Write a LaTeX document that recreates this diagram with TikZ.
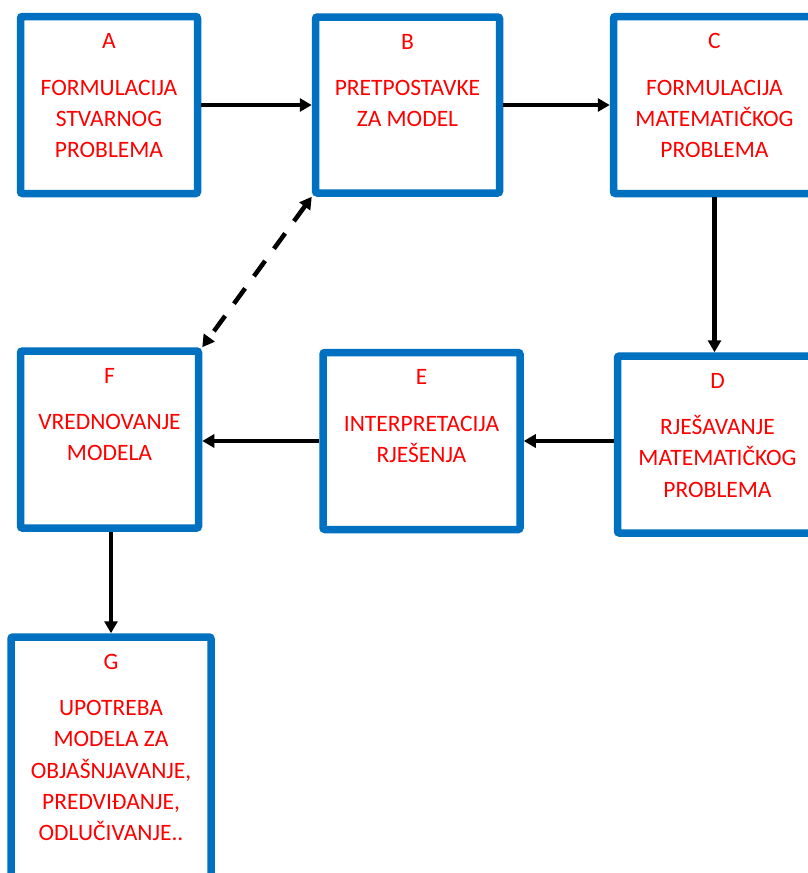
\documentclass[tikz,border=0pt]{standalone}
\usepackage{fontspec}
\setmainfont{Carlito}
\usetikzlibrary{arrows.meta,positioning}
\definecolor{boxblue}{RGB}{0,112,192}
\definecolor{textred}{RGB}{255,0,0}

\begin{document}
\begin{tikzpicture}[x=1pt,y=-1pt,
    >={Triangle[length=12pt,width=13pt]},
    box/.style={draw=boxblue,line width=7.5pt,rounded corners=2pt,fill=white,inner sep=0pt},
    boxtext/.style={text=textred,align=center,inner sep=0pt,font=\fontsize{23.5}{31.3}\selectfont},
    link/.style={line width=4.5pt,->}
]

    % Define the page and cut off what runs past it
    \useasboundingbox (0,0) rectangle (808,873);
    \fill[white] (0,0) rectangle (808,873);
    \clip (0,0) rectangle (808,873);

    % Draw the boxes (top row, middle row, bottom)
    \node[box,minimum width=177pt,minimum height=177pt] (A) at (109,105) {};
    \node[box,minimum width=184pt,minimum height=176pt] (B) at (407.5,105) {};
    \node[box,minimum width=202pt,minimum height=177pt] (C) at (714.5,105) {};
    \node[box,minimum width=200pt,minimum height=177pt] (D) at (717.5,444.5) {};
    \node[box,minimum width=197pt,minimum height=177pt] (E) at (421.5,441) {};
    \node[box,minimum width=178pt,minimum height=177pt] (F) at (109.5,439.5) {};
    \node[box,minimum width=200pt,minimum height=260pt] (G) at (111,767) {};

    % Text of each box, hung from its top edge
    \node[boxtext,below=13.8pt of A.north] (A-text) {\strut A\\[15.2pt]FORMULACIJA\\STVARNOG\\PROBLEMA};
    \node[boxtext,below=13.8pt of B.north] (B-text) {\strut B\\[15.2pt]PRETPOSTAVKE\\ZA MODEL};
    \node[boxtext,below=13.8pt of C.north] (C-text) {\strut C\\[15.2pt]FORMULACIJA\\MATEMATIČKOG\\PROBLEMA};
    \node[boxtext,below=13.8pt of D.north] (D-text) {\strut D\\[15.2pt]RJEŠAVANJE\\MATEMATIČKOG\\PROBLEMA};
    \node[boxtext,below=13.8pt of E.north] (E-text) {\strut E\\[15.2pt]INTERPRETACIJA\\RJEŠENJA};
    \node[boxtext,below=13.8pt of F.north] (F-text) {\strut F\\[15.2pt]VREDNOVANJE\\MODELA};
    \node[boxtext,below=13.8pt of G.north] (G-text) {\strut G\\[15.2pt]UPOTREBA\\MODELA ZA\\OBJAŠNJAVANJE,\\PREDVIĐANJE,\\ODLUČIVANJE..};

    % Draw the arrows between the boxes
    \draw[link] (A.east) -- (B.west);
    \draw[link] (B.east) -- (C.west);
    \draw[link] (C.south) -- (C.south |- D.north);
    \draw[link] (D.west |- E.east) -- (E.east);
    \draw[link] (E.west) -- (E.west -| F.east);
    \draw[link] (G.north |- F.south) -- (G.north);

    % Dashed arrow back to the assumptions
    \draw[link,<->,dash pattern=on 19pt off 15pt] (B.south west) -- (F.north east);

\end{tikzpicture}
\end{document}
